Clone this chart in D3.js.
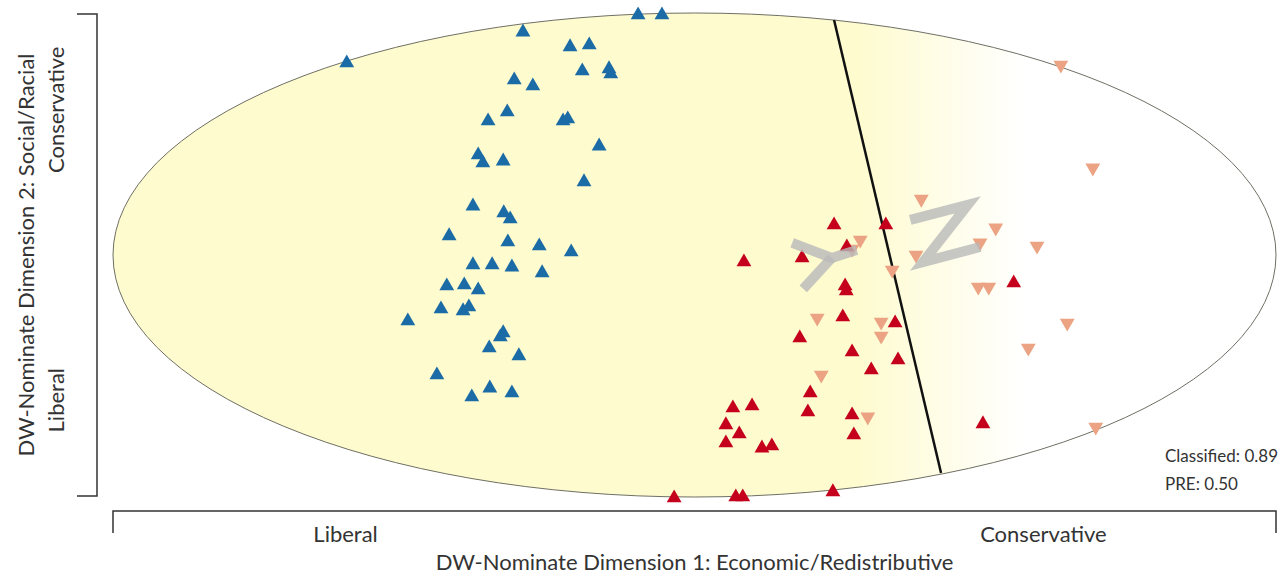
<!DOCTYPE html>
<html lang="en">
<head>
  <meta charset="UTF-8">
  <title>DW-Nominate roll call</title>
  <style>
    body {
      margin: 0;
      background-color: #ffffff;
      font-family: Lato, "Open Sans", sans-serif;
    }
    .bracket {
      stroke: #333;
      stroke-width: 1.5;
      fill: none;
    }
    .label {
      fill: #333;
      font-size: 22px;
    }
  </style>
</head>
<body>
  <div id="chart"></div>

  <script src="https://d3js.org/d3.v7.min.js"></script>
  <script>
    // legislators voting yea, Democrats (blue up triangles)
    const demYea = [
      [-0.598, 0.793], [-0.097, 0.992], [-0.056, 0.992], [-0.295, 0.921],
      [-0.214, 0.860], [-0.181, 0.868], [-0.193, 0.760], [-0.147, 0.769],
      [-0.144, 0.748], [-0.310, 0.723], [-0.278, 0.698], [-0.322, 0.591],
      [-0.355, 0.554], [-0.226, 0.554], [-0.218, 0.562], [-0.164, 0.450],
      [-0.372, 0.413], [-0.364, 0.380], [-0.329, 0.388], [-0.190, 0.302],
      [-0.381, 0.202], [-0.328, 0.174], [-0.317, 0.149], [-0.422, 0.079],
      [-0.321, 0.054], [-0.267, 0.037], [-0.212, 0.012], [-0.381, -0.041],
      [-0.348, -0.041], [-0.314, -0.050], [-0.262, -0.074], [-0.426, -0.128],
      [-0.396, -0.124], [-0.372, -0.145], [-0.436, -0.223], [-0.398, -0.231],
      [-0.388, -0.215], [-0.493, -0.273], [-0.329, -0.322], [-0.334, -0.339],
      [-0.353, -0.384], [-0.302, -0.417], [-0.443, -0.496], [-0.352, -0.550],
      [-0.383, -0.587], [-0.314, -0.570]
    ];

    // Republicans voting yea (dark red up triangles)
    const repYea = [
      [0.240, 0.124], [0.329, 0.124], [0.262, 0.033], [0.185, -0.012],
      [0.085, -0.029], [0.259, -0.128], [0.261, -0.149], [0.255, -0.256],
      [0.345, -0.281], [0.181, -0.343], [0.271, -0.401], [0.350, -0.434],
      [0.304, -0.475], [0.199, -0.570], [0.195, -0.649], [0.271, -0.661],
      [0.274, -0.744], [0.133, -0.789], [0.116, -0.798], [0.238, -0.979],
      [0.066, -0.632], [0.099, -0.624], [0.054, -0.702], [0.077, -0.740],
      [0.054, -0.777], [-0.035, -1.004], [0.071, -1.000], [0.083, -1.000],
      [0.496, -0.698], [0.549, -0.116]
    ];

    // Republicans voting nay (salmon down triangles)
    const repNay = [
      [0.630, 0.785], [0.685, 0.360], [0.390, 0.231], [0.518, 0.112],
      [0.491, 0.050], [0.589, 0.037], [0.381, 0.000], [0.285, 0.062],
      [0.271, 0.025], [0.340, -0.062], [0.488, -0.132], [0.506, -0.132],
      [0.211, -0.260], [0.321, -0.277], [0.321, -0.335], [0.218, -0.496],
      [0.298, -0.669], [0.641, -0.281], [0.574, -0.384], [0.690, -0.711]
    ];

    // cutting line between predicted yea and nay
    const cutLine = [[0.240, 0.971], [0.424, -0.901]];

    // "Y" and "N" glyphs on either side of the cutting line
    const yesGlyph = [
      [[0.168, 0.050], [0.236, -0.012], [0.279, 0.021]],
      [[0.236, -0.012], [0.187, -0.140]]
    ];
    const noGlyph = [
      [[0.371, 0.145], [0.470, 0.207], [0.393, -0.029], [0.491, 0.033]]
    ];

    const fitStats = ["Classified: 0.89", "PRE: 0.50"];
    const xTitle = "DW-Nominate Dimension 1: Economic/Redistributive";
    const yTitle = "DW-Nominate Dimension 2: Social/Racial";
    const poles = ["Liberal", "Conservative"];

    const width = 1284, height = 574;

    const svg = d3.select('#chart').append('svg')
      .attr('width', width)
      .attr('height', height);

    const x = d3.scaleLinear().domain([-1, 1]).range([113, 1276]);
    const y = d3.scaleLinear().domain([-1, 1]).range([497, 13]);

    // yellow that fades out on the conservative side
    const grad = svg.append('defs').append('linearGradient')
      .attr('id', 'fade')
      .attr('gradientUnits', 'userSpaceOnUse')
      .attr('x1', x(0.28)).attr('x2', x(0.57))
      .attr('y1', 0).attr('y2', 0);
    grad.append('stop').attr('offset', 0).attr('stop-color', '#fefbcf');
    grad.append('stop').attr('offset', 1).attr('stop-color', '#ffffff');

    svg.append('ellipse')
      .attr('cx', x(0)).attr('cy', y(0))
      .attr('rx', x(1) - x(0)).attr('ry', y(-1) - y(0))
      .attr('fill', 'url(#fade)')
      .attr('stroke', '#6f6f64')
      .attr('stroke-width', 1);

    svg.append('line')
      .attr('x1', x(cutLine[0][0])).attr('y1', y(cutLine[0][1]))
      .attr('x2', x(cutLine[1][0])).attr('y2', y(cutLine[1][1]))
      .attr('stroke', '#111')
      .attr('stroke-width', 2.5);

    // points
    const tri = d3.symbol().type(d3.symbolTriangle).size(95);

    function drawPoints(data, color, flip) {
      svg.append('g').selectAll('path')
        .data(data)
        .enter().append('path')
        .attr('d', tri)
        .attr('fill', color)
        .attr('transform', d => `translate(${x(d[0])},${y(d[1])})` + (flip ? ' rotate(180)' : ''));
    }

    drawPoints(repNay, '#eba383', true);
    drawPoints(repYea, '#c4001c', false);
    drawPoints(demYea, '#1b6ba6', false);

    // Y / N letters
    const line = d3.line().x(d => x(d[0])).y(d => y(d[1]));
    svg.append('g').selectAll('path')
      .data(yesGlyph.concat(noGlyph))
      .enter().append('path')
      .attr('d', line)
      .attr('fill', 'none')
      .attr('stroke', '#b9b9b9')
      .attr('stroke-opacity', 0.8)
      .attr('stroke-width', 10)
      .attr('stroke-linejoin', 'miter');

    // y bracket
    const yb = 97;
    svg.append('path')
      .attr('class', 'bracket')
      .attr('d', `M${yb - 20},${y(1) + 1}H${yb}V${y(-1) - 1}H${yb - 20}`);

    // x bracket
    const xb = 511;
    svg.append('path')
      .attr('class', 'bracket')
      .attr('d', `M${x(-1)},${xb + 22}V${xb}H${x(1)}V${xb + 22}`);

    // axis text
    svg.append('text')
      .attr('class', 'label')
      .attr('transform', `translate(34,${y(0)}) rotate(-90)`)
      .attr('text-anchor', 'middle')
      .text(yTitle);

    svg.append('text')
      .attr('class', 'label')
      .attr('transform', `translate(64,${y(0.6)}) rotate(-90)`)
      .attr('text-anchor', 'middle')
      .text(poles[1]);

    svg.append('text')
      .attr('class', 'label')
      .attr('transform', `translate(64,${y(-0.6)}) rotate(-90)`)
      .attr('text-anchor', 'middle')
      .text(poles[0]);

    svg.append('text')
      .attr('class', 'label')
      .attr('x', x(-0.6)).attr('y', 542)
      .attr('text-anchor', 'middle')
      .text(poles[0]);

    svg.append('text')
      .attr('class', 'label')
      .attr('x', x(0.6)).attr('y', 542)
      .attr('text-anchor', 'middle')
      .text(poles[1]);

    svg.append('text')
      .attr('class', 'label')
      .attr('x', x(0)).attr('y', 570)
      .attr('text-anchor', 'middle')
      .text(xTitle);

    svg.append('g').selectAll('text')
      .data(fitStats)
      .enter().append('text')
      .attr('class', 'label')
      .attr('x', 1165)
      .attr('y', (d, i) => 462 + i * 28)
      .style('font-size', '17px')
      .text(d => d);
  </script>
</body>
</html>
